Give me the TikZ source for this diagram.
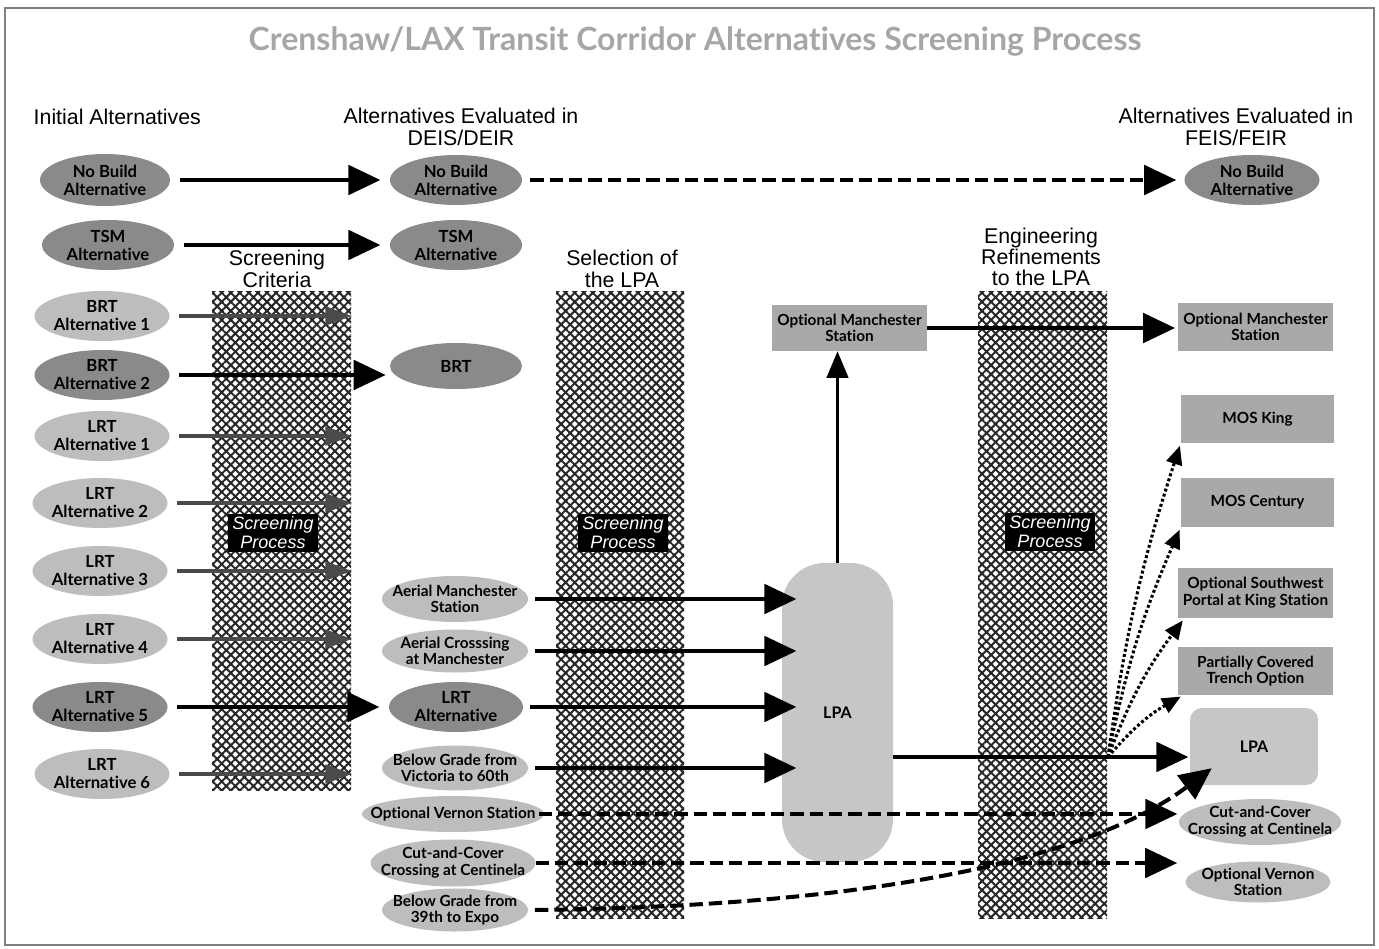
\documentclass[tikz,border=0pt]{standalone}
\usepackage{fontspec}
\setmainfont{Liberation Sans}
\newfontfamily\lato[Ligatures=NoCommon]{Lato}
\usetikzlibrary{arrows.meta,patterns.meta,shapes.geometric}
\definecolor{dkell}{HTML}{8A8A8A}
\definecolor{ltell}{HTML}{BDBDBD}
\definecolor{rectg}{HTML}{A9A9A9}
\definecolor{lpag}{HTML}{C6C6C6}
\definecolor{titleg}{HTML}{A6A6A6}
\definecolor{garr}{HTML}{4A4A4A}
\begin{document}
\begin{tikzpicture}[x=0.75pt,y=-0.75pt,
  sz/.style 2 args={minimum width=#1*0.75pt, minimum height=#2*0.75pt},
  ell/.style={ellipse, inner xsep=-40pt, inner ysep=-6pt, align=center, font=\lato\bfseries\fontsize{12.5}{13.5}\selectfont},
  sell/.style={ellipse, inner xsep=-40pt, inner ysep=-6pt, align=center, font=\lato\bfseries\fontsize{11.5}{12.5}\selectfont},
  dk/.style={fill=dkell},
  lt/.style={fill=ltell},
  boxr/.style={rectangle, inner sep=0pt, align=center, fill=rectg, font=\lato\bfseries\fontsize{11.5}{12.5}\selectfont},
  hdr/.style={align=center, font=\fontsize{16}{16}\selectfont},
  hatch/.style={inner sep=0pt, pattern={Lines[angle=45,distance=4.8pt,line width=1.5pt]}, pattern color=black!85,
    postaction={pattern={Lines[angle=-45,distance=4.8pt,line width=1.5pt]}, pattern color=black!85}},
  spbox/.style={fill=black, text=white, inner sep=0pt, align=center, font=\itshape\fontsize{13.5}{14.25}\selectfont},
  big/.style={line width=3.2pt, -{Triangle[length=24pt,width=22pt]}},
  garrow/.style={line width=2.4pt, draw=garr, -{Triangle[length=20pt,width=14pt]}},
  dasharr/.style={line width=3pt, dash pattern=on 10pt off 4.5pt, -{Triangle[length=24pt,width=22pt]}},
  dott/.style={line width=2.3pt, dash pattern=on 2.2pt off 1.8pt, -{Triangle[length=14pt,width=12pt]}},
  upa/.style={line width=2.6pt, -{Triangle[length=20pt,width=16pt]}}
]
\useasboundingbox (0,0) rectangle (1379,949);
\draw[gray, line width=1pt] (5,8) rectangle (1374,945);

% title and headers
\node[text=titleg, font=\lato\bfseries\fontsize{24}{26}\selectfont] (title) at (695,42) {Crenshaw/LAX Transit Corridor Alternatives Screening Process};
\node[hdr, anchor=west] (h1) at (29,117) {Initial Alternatives};
\node[hdr] (h2) at (461,127) {Alternatives Evaluated in\\DEIS/DEIR};
\node[hdr] (h3) at (1236,127) {Alternatives Evaluated in\\FEIS/FEIR};
\node[hdr] (h4) at (277,269) {Screening\\Criteria};
\node[hdr] (h5) at (622,269) {Selection of\\the LPA};
\node[hdr] (h6) at (1041,257) {Engineering\\Refinements\\to the LPA};

% hatched bars
\node[hatch, sz={139}{499}] (bar1) at (281.5,540.5) {};
\node[hatch, sz={128}{627}] (bar2) at (620,604.5) {};
\node[hatch, sz={129}{627}] (bar3) at (1042.5,604.5) {};
\node[spbox, sz={90}{38}] (sp1) at (273,533) {Screening\\Process};
\node[spbox, sz={90}{38}] (sp2) at (623,533) {Screening\\Process};
\node[spbox, sz={90}{38}] (sp3) at (1050,532) {Screening\\Process};

% initial alternatives
\node[ell,dk,sz={130}{52}] (nb1) at (105,180) {No Build\\Alternative};
\node[ell,dk,sz={132}{50}] (tsm1) at (108,245) {TSM\\Alternative};
\node[ell,lt,sz={135}{50}] (brt1) at (102,316) {BRT\\Alternative 1};
\node[ell,dk,sz={135}{50}] (brt2) at (102,375) {BRT\\Alternative 2};
\node[ell,lt,sz={135}{50}] (lrt1) at (102,436) {LRT\\Alternative 1};
\node[ell,lt,sz={135}{50}] (lrt2) at (100,503) {LRT\\Alternative 2};
\node[ell,lt,sz={135}{50}] (lrt3) at (100,571) {LRT\\Alternative 3};
\node[ell,lt,sz={135}{50}] (lrt4) at (100,639) {LRT\\Alternative 4};
\node[ell,dk,sz={135}{50}] (lrt5) at (100,707) {LRT\\Alternative 5};
\node[ell,lt,sz={135}{50}] (lrt6) at (102,774) {LRT\\Alternative 6};

% DEIS/DEIR
\node[ell,dk,sz={132}{50}] (nb2) at (456,180) {No Build\\Alternative};
\node[ell,dk,sz={132}{50}] (tsm2) at (456,245) {TSM\\Alternative};
\node[ell,dk,sz={132}{46}] (brt) at (456,366) {BRT};
\node[sell,lt,sz={146}{46}] (am) at (455,599) {Aerial Manchester\\Station};
\node[sell,lt,sz={146}{43}] (ac) at (455,651) {Aerial Crosssing\\at Manchester};
\node[ell,dk,sz={134}{50}] (lrta) at (456,707) {LRT\\Alternative};
\node[sell,lt,sz={146}{45}] (bgv) at (455,768) {Below Grade from\\Victoria to 60th};
\node[sell,lt,sz={182}{36}] (ovs) at (453,814) {Optional Vernon Station};
\node[sell,lt,sz={165}{47}] (ccc) at (453,863) {Cut-and-Cover\\Crossing at Centinela};
\node[sell,lt,sz={146}{43}] (bge) at (455,910) {Below Grade from\\39th to Expo};

% LPA selection
\node[fill=lpag, rounded corners=32pt, sz={111}{299}, font=\lato\bfseries\fontsize{12}{13}\selectfont] (lpa) at (837.5,712.5) {LPA};
\node[boxr, sz={155}{46}] (omm) at (849.5,328) {Optional Manchester\\Station};

% FEIS/FEIR
\node[ell,dk,sz={135}{50}] (nbf) at (1252,180) {No Build\\Alternative};
\node[boxr, sz={155}{48}] (omr) at (1255.5,327) {Optional Manchester\\Station};
\node[boxr, sz={153}{48}] (mosk) at (1257.5,419) {MOS King};
\node[boxr, sz={153}{49}] (mosc) at (1257.5,502.5) {MOS Century};
\node[boxr, sz={155}{50}] (osp) at (1255.5,593) {Optional Southwest\\Portal at King Station};
\node[boxr, sz={155}{48}] (pct) at (1255.5,671) {Partially Covered\\Trench Option};
\node[fill=lpag, rounded corners=9pt, sz={128}{77}, font=\lato\bfseries\fontsize{12}{13}\selectfont] (lpar) at (1254,746.5) {LPA};
\node[sell,lt,sz={162}{46}] (cccr) at (1260,822) {Cut-and-Cover\\Crossing at Centinela};
\node[sell,lt,sz={145}{41}] (ovsr) at (1258,882) {Optional Vernon\\Station};

% connectors: initial -> DEIS
\draw[big, shorten <=7pt, shorten >=7pt] (nb1) -- (nb2);
\draw[big, shorten <=7pt, shorten >=7pt] (tsm1) -- (tsm1 -| tsm2.west);
\draw[big, shorten <=7pt, shorten >=3pt] (brt2) -- (brt2 -| brt.west);
\draw[big, shorten <=7pt, shorten >=7pt] (lrt5) -- (lrt5 -| lrta.west);
\foreach \n in {brt1,lrt1,lrt2,lrt3,lrt4,lrt6}
  \draw[garrow, shorten <=7pt] (\n) -- (\n -| bar1.east);

% DEIS -> LPA / FEIS
\draw[dasharr, shorten <=6pt, shorten >=6pt] (nb2) -- (nbf);
\foreach \n in {am,ac,lrta,bgv}
  \draw[big, shorten <=5pt, shorten >=-11pt] (\n) -- (\n -| lpa.west);
\draw[dasharr, shorten <=-4pt, shorten >=1pt] (ovs) -- (ovs -| cccr.west);
\draw[dasharr, shorten <=0pt, shorten >=6pt] (ccc) -- (ccc -| ovsr.west);
\draw[dasharr, shorten <=5pt] (bge.east) .. controls (900,906) and (1100,852) .. ([xshift=16.5pt,yshift=12.75pt]lpar.south west);

% LPA refinements
\draw[upa] (lpa.north) -- (lpa.north |- omm.south);
\draw[big, shorten >=2pt] (omm) -- (omm -| omr.west);
\coordinate (fan) at (1108,757);
\draw[big, shorten >=1pt] (lpa.east |- fan) -- (lpar.west |- fan);
\draw[dott, shorten >=2pt] (fan) to[bend left=5] (mosk.south west);
\draw[dott, shorten >=2pt] (fan) to[bend left=6] (mosc.south west);
\draw[dott, shorten >=2pt] (fan) to[bend left=8] ([xshift=5pt]osp.south west);
\draw[dott, shorten >=2pt] (fan) to[bend left=10] ([xshift=4pt]pct.south west);
\end{tikzpicture}
\end{document}
